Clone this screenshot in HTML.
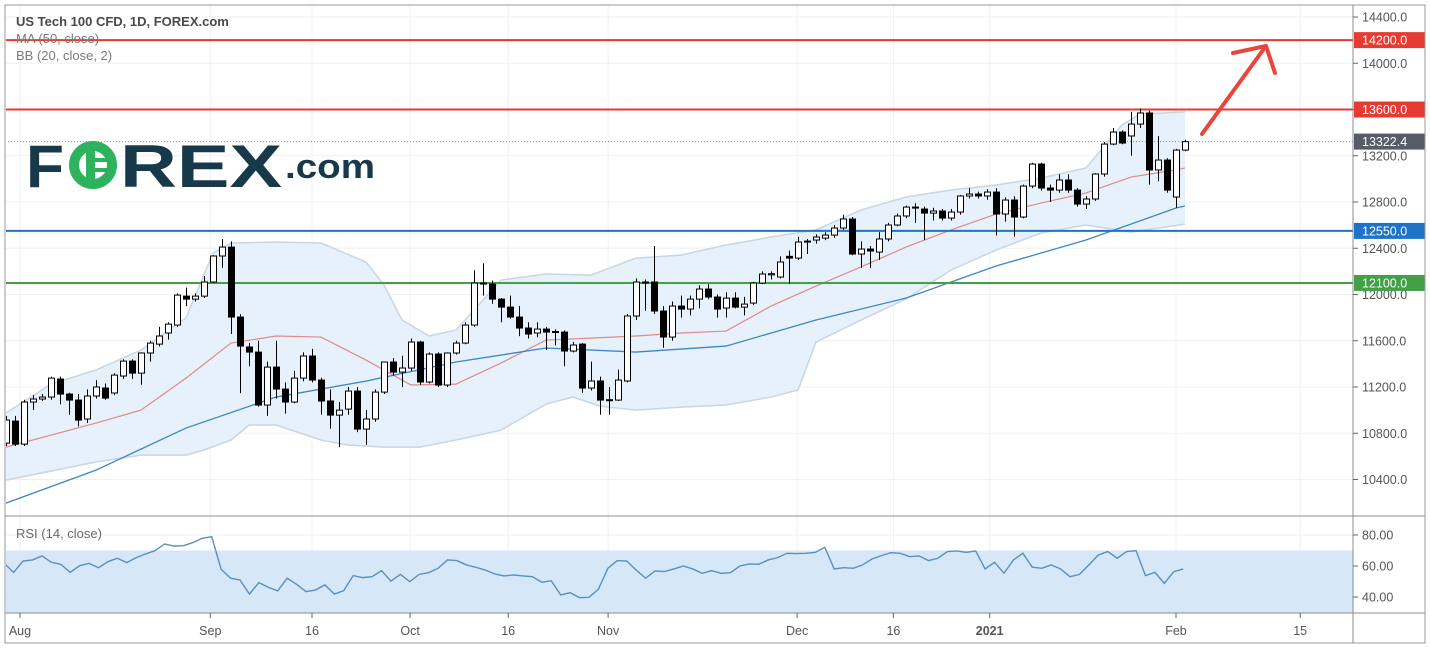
<!DOCTYPE html>
<html><head><meta charset="utf-8"><style>
html,body{margin:0;padding:0;background:#fff;}
svg{display:block;font-family:"Liberation Sans",sans-serif;}
</style></head><body>
<svg id="chart" width="1430" height="648" viewBox="0 0 1430 648" xmlns="http://www.w3.org/2000/svg">
<defs>
<clipPath id="mainClip"><rect x="6" y="6" width="1347" height="510"/></clipPath>
<clipPath id="rsiClip"><rect x="6" y="517" width="1347" height="96"/></clipPath>
</defs>
<rect x="0" y="0" width="1430" height="648" fill="#fff"/>
<g id="grid"></g>
<g id="main" clip-path="url(#mainClip)"></g>
<g id="rsi" clip-path="url(#rsiClip)"></g>
<g id="axes"></g>
<g id="overlay">
  <text x="16" y="26" font-size="13" font-weight="bold" fill="#4a4a4a">US Tech 100 CFD, 1D, FOREX.com</text>
  <text x="16" y="43" font-size="13" fill="#7a7a7a">MA (50, close)</text>
  <text x="16" y="60" font-size="13" fill="#7a7a7a">BB (20, close, 2)</text>
  <text x="16" y="538" font-size="13" fill="#6a6a6a">RSI (14, close)</text>
  <g>
    <text x="26" y="187" font-size="60" font-weight="bold" fill="#17394a" textLength="38" lengthAdjust="spacingAndGlyphs">F</text>
    <circle cx="93" cy="165" r="19" fill="none" stroke="#2db35d" stroke-width="10"/>
    <rect x="86" y="150" width="9" height="30" fill="#2db35d"/>
    <rect x="92" y="158" width="16" height="4" fill="#2db35d"/>
    <rect x="92" y="168" width="16" height="4" fill="#2db35d"/>
    <text x="120" y="187" font-size="60" font-weight="bold" fill="#17394a" textLength="162" lengthAdjust="spacingAndGlyphs">REX</text>
    <text x="285" y="178" font-size="34" font-weight="bold" fill="#17394a" textLength="90" lengthAdjust="spacingAndGlyphs">.com</text>
  </g>
  <g stroke="#e8453c" stroke-width="4" fill="none" stroke-linecap="round" stroke-linejoin="round">
    <line x1="1202" y1="134" x2="1266" y2="46"/>
    <polyline points="1233,53 1266,46 1275,73"/>
  </g>
</g>
<rect x="5" y="5" width="1420" height="638" fill="none" stroke="#9a9a9a" stroke-width="1"/>
</svg>
<script>
const openP=[10715,10905,10706,11070,11096,11113,11269,11139,11087,10923,11122,11191,11148,11295,11424,11320,11494,11571,11667,11736,11986,11960,11986,12108,12333,12410,11805,11546,11502,11044,11372,11182,11070,11277,11468,11260,11079,10957,11009,11165,10836,10923,11156,11416,11329,11364,11589,11243,11485,11217,11494,11580,11736,12099,12090,11960,11891,11805,11710,11667,11701,11680,11675,11511,11571,11191,11252,11090,11087,11252,11814,12099,12108,11857,11632,11900,11874,11960,12047,11978,11883,11969,11891,11926,12099,12170,12151,12330,12315,12458,12471,12488,12514,12575,12653,12350,12393,12367,12480,12601,12679,12750,12739,12704,12722,12661,12713,12852,12869,12852,12886,12696,12817,12670,12938,13128,12921,12903,12990,12903,12782,12826,13042,13301,13405,13371,13474,13570,13077,13163,12843,13249];
const highP=[10950,10950,11090,11130,11140,11290,11290,11150,11140,11180,11260,11230,11320,11440,11440,11500,11600,11720,11760,12010,12060,12010,12160,12340,12480,12460,11830,11580,11600,11420,11600,11240,11340,11500,11530,11280,11180,11070,11200,11200,11000,11180,11420,11450,11470,11620,11600,11500,11500,11500,11600,11760,12210,12270,12120,11970,11990,11900,11760,11760,11720,11700,11690,11590,11580,11420,11290,11200,11350,11830,12140,12130,12420,11900,11940,11990,11990,12080,12090,12000,12020,12020,11980,12110,12200,12200,12330,12380,12500,12480,12520,12540,12600,12690,12670,12460,12420,12540,12620,12700,12770,12790,12760,12750,12740,12740,12860,12920,12890,12910,12920,12840,12850,12950,13140,13140,12950,13040,13040,12920,12850,13050,13320,13440,13420,13580,13610,13590,13370,13180,13260,13340];
const lowP=[10690,10690,10690,11000,11080,11090,11050,10960,10860,10890,11100,11090,11130,11270,11270,11220,11420,11550,11610,11720,11900,11940,11970,12100,12230,11660,11147,11380,11030,10950,11100,10970,11060,11250,11240,10960,10840,10680,10960,10810,10700,10900,11140,11300,11200,11340,11220,11230,11200,11200,11480,11570,11720,11990,11920,11760,11790,11640,11620,11630,11520,11560,11380,11500,11150,11170,10960,10960,11080,11240,11780,11860,11830,11540,11600,11800,11820,11880,11960,11800,11800,11880,11820,11910,12090,12130,12140,12090,12300,12350,12440,12470,12490,12560,12340,12230,12230,12300,12460,12590,12660,12620,12470,12640,12640,12640,12690,12830,12830,12820,12510,12630,12500,12660,12920,12900,12800,12880,12880,12760,12740,12810,13020,13290,13300,13200,13440,12950,12980,12880,12750,13240];
const closeP=[10914,10706,11070,11096,11113,11277,11139,11087,10914,11122,11200,11104,11303,11424,11320,11494,11580,11641,11744,11995,11960,11986,12108,12333,12410,11805,11554,11502,11044,11372,11182,11070,11277,11468,11260,11079,10957,11000,11165,10836,10923,11156,11416,11329,11364,11589,11243,11485,11217,11494,11580,11736,12099,12090,11960,11891,11805,11710,11658,11701,11675,11675,11511,11563,11191,11252,11087,11087,11260,11814,12108,12108,11857,11632,11900,11874,11960,12047,11978,11874,11969,11891,11917,12099,12177,12180,12281,12315,12454,12462,12497,12514,12575,12653,12350,12393,12376,12480,12601,12679,12756,12756,12704,12722,12661,12713,12852,12869,12852,12886,12696,12817,12670,12938,13128,12921,12903,12990,12903,12782,12826,13042,13301,13405,13310,13474,13570,13077,13163,12903,13249,13322];

const maIdx=[0,10,20,30,40,50,60,70,80,90,100,110,120,130,131];
const maVal=[10196,10481,10845,11113,11251,11416,11537,11502,11554,11779,11969,12246,12471,12748,12765];
const bbMidIdx=[0,10,15,20,25,30,35,40,45,50,55,60,65,70,75,80,85,90,95,100,105,110,115,120,125,130,131];
const bbMidVal=[10680,10888,11000,11277,11580,11641,11632,11433,11217,11225,11407,11606,11623,11641,11667,11684,11900,12073,12238,12410,12558,12696,12791,12878,13016,13077,13094];
const bbUpIdx=[0,5,10,15,20,23,25,30,35,40,42,44,47,50,55,60,65,70,75,80,85,90,95,100,105,110,115,120,124,126,131];
const bbUpVal=[10975,11225,11347,11520,11796,12358,12445,12454,12445,12281,12082,11779,11641,11692,12125,12177,12168,12315,12341,12428,12497,12558,12731,12843,12904,12947,13007,13094,13466,13561,13578];
const bbLoIdx=[0,10,15,20,22,25,27,30,35,38,42,46,50,55,60,63,66,70,75,80,85,88,90,95,100,105,110,115,120,125,131];
const bbLoVal=[10395,10551,10611,10611,10655,10741,10871,10871,10741,10698,10680,10680,10741,10827,11052,11113,11035,11000,11026,11044,11113,11174,11589,11779,11961,12211,12384,12532,12601,12540,12609];

const rsiVal=[61.7,55.9,63.2,63.9,66.5,62.4,61.1,55.9,60.2,61.7,58.9,62.8,65.0,62.2,65.4,67.8,69.9,74.2,72.9,73.1,75.1,77.9,78.9,57.9,52.1,51.0,41.9,49.3,46.3,43.9,52.1,48.2,43.5,44.5,47.8,41.9,44.1,53.8,52.5,53.1,57.0,50.3,54.6,49.9,54.6,55.7,58.5,63.9,63.5,60.7,59.2,57.4,54.9,53.6,54.2,53.6,53.1,49.5,50.5,41.3,42.8,39.6,39.8,45.0,58.5,63.5,63.2,57.4,52.1,56.8,56.4,58.1,60.0,58.1,55.3,57.0,55.3,55.7,60.0,61.3,61.1,63.9,65.4,68.2,68.0,68.2,68.8,72.0,58.1,58.9,58.5,60.7,64.5,66.7,68.6,68.2,66.0,66.5,63.5,65.0,69.3,69.7,68.8,69.7,58.1,62.4,55.3,63.9,68.2,59.2,58.5,60.7,58.1,53.1,54.6,60.7,67.1,69.3,65.0,69.3,69.9,53.8,55.9,48.8,56.3,58.1];

const priceTicks=[14400,14000,13600,13200,12800,12400,12000,11600,11200,10800,10400];
const rsiTicks=[80,60,40];
const dateLabels=["Aug","Sep","16","Oct","16","Nov","Dec","16","2021","Feb","15"];
const dateIdx=[1.55,22.7,34,44.9,55.8,66.9,87.9,98.6,109.3,130,143.8];
const levelVals=[14200,13600,12550,12100];
const levelColors=["#e53b33","#e53b33","#1f73c7","#43a047"];
const levelNames=["resistance-14200","resistance-13600","support-12550","support-12100"];
const lastPrice=13322.4;

const NS="http://www.w3.org/2000/svg";
const xS=i=>6+i*9;
const yS=v=>17+(14400-v)*46.25/400;
const yR=v=>535+(80-v)*31/20;
function mk(tag,attrs,parent){const e=document.createElementNS(NS,tag);for(const k in attrs)e.setAttribute(k,attrs[k]);parent.appendChild(e);return e;}
const grid=document.getElementById('grid'),main=document.getElementById('main'),rsi=document.getElementById('rsi'),axes=document.getElementById('axes');

// grid
priceTicks.forEach(t=>{const l=mk('line',{x1:5,x2:1353,y1:yS(t),y2:yS(t),stroke:'#eef0f4','stroke-width':1},grid);

});
rsiTicks.forEach(t=>{const l=mk('line',{x1:5,x2:1353,y1:yR(t),y2:yR(t),stroke:'#eef0f4','stroke-width':1},grid);

});
dateIdx.forEach(d=>{const l=mk('line',{x1:xS(d),x2:xS(d),y1:5,y2:613,stroke:'#eef0f4','stroke-width':1},grid);

});

// bollinger fill
function pts(idx,val){return idx.map((i,k)=>xS(i)+','+yS(val[k]));}
const up=pts(bbUpIdx,bbUpVal),lo=pts(bbLoIdx,bbLoVal);
const fill=mk('polygon',{points:up.concat(lo.slice().reverse()).join(' '),fill:'#e6f1fb'},main);


const upL=mk('polyline',{points:up.join(' '),fill:'none',stroke:'#c8d5e2','stroke-width':1.5},main);


const loL=mk('polyline',{points:lo.join(' '),fill:'none',stroke:'#c8d5e2','stroke-width':1.5},main);


const mid=mk('polyline',{points:pts(bbMidIdx,bbMidVal).join(' '),fill:'none',stroke:'#e08a8a','stroke-width':1.2},main);


const ma=mk('polyline',{points:pts(maIdx,maVal).join(' '),fill:'none',stroke:'#3d87c4','stroke-width':1.3},main);



// level lines
levelVals.forEach((v,k)=>{const l=mk('line',{x1:5,x2:1353,y1:yS(v),y2:yS(v),stroke:levelColors[k],'stroke-width':2},main);

});
const lp=mk('line',{x1:5,x2:1353,y1:yS(lastPrice),y2:yS(lastPrice),stroke:'#999','stroke-width':1,'stroke-dasharray':'1,2'},main);



// candles
for(let i=0;i<closeP.length;i++){
  const x=xS(i),o=openP[i],c=closeP[i],upC=c>=o;
  const g=mk('g',{},main);
  
  
  mk('line',{x1:x+0.5,x2:x+0.5,y1:yS(highP[i]),y2:yS(lowP[i]),stroke:'#000','stroke-width':1},g);
  const t=yS(Math.max(o,c)),b=yS(Math.min(o,c));
  mk('rect',{x:x-2.5,y:t,width:6,height:Math.max(1,b-t),fill:upC?'#fff':'#000',stroke:'#000','stroke-width':1},g);
}

// RSI
const band=mk('rect',{x:5,y:yR(70),width:1348,height:yR(30)-yR(70),fill:'#d6e8f8'},rsi);


const n=rsiVal.length;
const rsiLine=mk('polyline',{points:rsiVal.map((v,k)=>xS(k*131/(n-1)-0.2)+','+yR(v)).join(' '),fill:'none',stroke:'#5a8fbf','stroke-width':1.4},rsi);



// axes lines
[[5,516,1425,516],[5,613,1425,613],[1353,5,1353,643]].forEach(a=>{const l=mk('line',{x1:a[0],y1:a[1],x2:a[2],y2:a[3],stroke:'#8c8c8c','stroke-width':1},axes);

});
priceTicks.forEach(t=>{
  const tk=mk('line',{x1:1353,x2:1358,y1:yS(t),y2:yS(t),stroke:'#666'},axes);
  
  
  const tx=mk('text',{x:1362,y:yS(t)+4.5,'font-size':12.5,fill:'#555'},axes);
  tx.textContent=t.toFixed(1);
  
  
});
rsiTicks.forEach(t=>{
  const tk=mk('line',{x1:1353,x2:1358,y1:yR(t),y2:yR(t),stroke:'#666'},axes);
  
  
  const tx=mk('text',{x:1362,y:yR(t)+4.5,'font-size':12.5,fill:'#555'},axes);
  tx.textContent=t.toFixed(2);
  
  
});
dateLabels.forEach((d,k)=>{
  const x=xS(dateIdx[k]);
  mk('line',{x1:x,x2:x,y1:613,y2:618,stroke:'#666'},axes);
  const tx=mk('text',{x:x,y:635,'font-size':12.5,fill:'#555','text-anchor':'middle','font-weight':d==='2021'?'bold':'normal'},axes);
  tx.textContent=d;
  
  
});
// level badges
levelVals.forEach((v,k)=>{
  const r=mk('rect',{x:1354,y:yS(v)-8,width:71,height:16,fill:levelColors[k]},axes);
  
  
  const tx=mk('text',{x:1362,y:yS(v)+4.5,'font-size':12.5,fill:'#fff'},axes);
  tx.textContent=v.toFixed(1);
  
  
});
const lb=mk('rect',{x:1354,y:yS(lastPrice)-8,width:71,height:16,fill:'#575c66'},axes);


const lt=mk('text',{x:1362,y:yS(lastPrice)+4.5,'font-size':12.5,fill:'#fff'},axes);
lt.textContent=lastPrice.toFixed(1);


</script>
</body></html>
